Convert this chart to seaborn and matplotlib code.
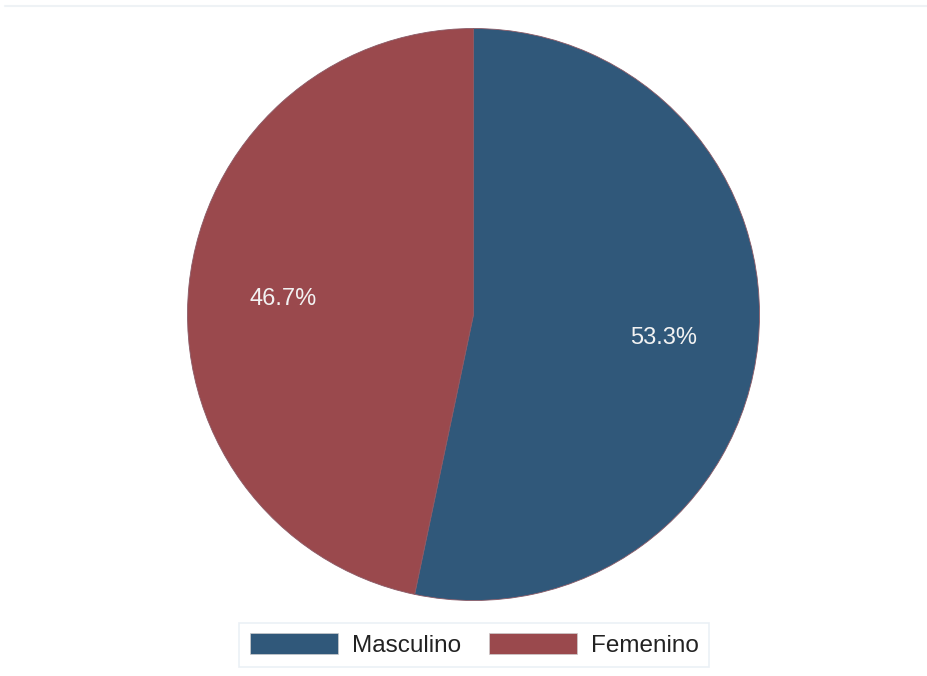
import matplotlib
matplotlib.use("Agg")
import matplotlib.pyplot as plt
import seaborn as sns
from matplotlib.lines import Line2D

sns.set_theme(style="white")
plt.rcParams['font.family'] = ['Liberation Sans', 'DejaVu Sans']

categories = ["Masculino", "Femenino"]
values = [53.3, 46.7]
colors = ["#30587A", "#9A494D"]

fig = plt.figure(figsize=(9.27, 6.76), dpi=100)
ax = fig.add_axes([187.5 / 927, (676 - 600.5) / 676, 572 / 927, 572 / 676])
wedges, texts, autotexts = ax.pie(
    values, colors=colors, startangle=90, counterclock=False,
    autopct="%.1f%%", pctdistance=0.67, radius=1,
    wedgeprops=dict(linewidth=0.6, edgecolor="#8a5a66"),
    textprops=dict(color="#F2F2F2", fontsize=17),
)
for t in autotexts:
    x, y = t.get_position()
    t.set_position((x, y - 0.014))
ax.set_xlim(-1, 1)
ax.set_ylim(-1, 1)
ax.set_aspect("equal")

fig.add_artist(Line2D([5 / 927, 1], [1 - 6 / 676, 1 - 6 / 676], color="#EEF2F5", lw=1.5))

fs = 17.5
px = fs * 100 / 72
leg = fig.legend(
    wedges, categories, loc="center", bbox_to_anchor=(474 / 927, (676 - 645) / 676),
    ncol=2, frameon=True, fancybox=False, fontsize=fs, handlelength=88 / px,
    handleheight=22 / px, columnspacing=28 / px, handletextpad=14 / px, borderpad=0.42,
    edgecolor="#E6EDF3", labelcolor="#222222",
)
leg.get_frame().set_linewidth(1.2)
for h in leg.legend_handles:
    h.set_edgecolor("#cccccc")
    h.set_linewidth(0.5)

fig.savefig("out.png", dpi=100, facecolor="white")
